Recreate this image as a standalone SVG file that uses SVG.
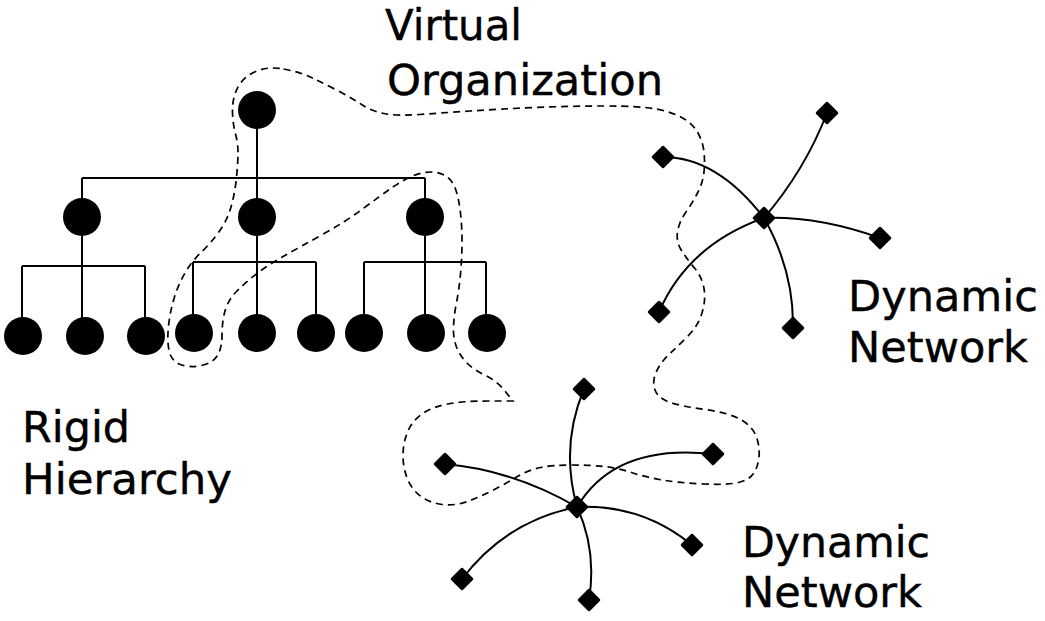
<svg xmlns="http://www.w3.org/2000/svg" xmlns:xlink="http://www.w3.org/1999/xlink" width="1045" height="621" viewBox="0 0 1045 621">
<style>
.bg{fill:#fff}
.ln{fill:none;stroke:#000;stroke-width:2}
.cv{fill:none;stroke:#000;stroke-width:2}
.dash{fill:none;stroke:#000;stroke-width:1.7;stroke-dasharray:7 5}
.hn{fill:#000}
.dn{fill:#000;stroke:#000;stroke-width:2.5;stroke-linejoin:round}
.lbl{font-family:"DejaVu Sans","Liberation Sans",sans-serif;font-size:42px;fill:#000;stroke:#000;stroke-width:0.4}
</style>
<defs>
<path id="dia" d="M0,-10 L10,0 L0,10 L-10,0 Z"/>
</defs>
<rect class="bg" width="1045" height="621"/>
<g id="connectors">
<path class="ln" d="M257,110 V178 M82,178 H425 M82,178 V217 M257,178 V217 M425,178 V217"/>
<path class="ln" d="M82,217 V335 M22,266 H145 M22,266 V335 M145,266 V335"/>
<path class="ln" d="M257,217 V335 M193,262 H316 M193,262 V335 M316,262 V335"/>
<path class="ln" d="M425,217 V335 M364,262 H486 M364,262 V335 M486,262 V335"/>
<path class="cv" d="M764,218 Q805,170 827,113 M764,218 Q717,157 663,157 M764,218 Q818,216 880,238 M764,218 Q688,245 659,312 M764,218 Q794,271 793,328"/>
<path class="cv" d="M577,507 Q560,446 584,389 M577,507 Q513,470 445,464 M577,507 Q615,443 713,454 M577,507 Q642,504 692,545 M577,507 Q506,521 462,579 M577,507 Q597,550 589,600"/>
<path id="virtual-org-boundary" class="dash" d="M 283.5,69 Q 300,72 311.5,77.5 Q 323,83 336.5,90 Q 350,97 361.5,104.5 Q 373,112 386.5,114 Q 400,116 420,114.5 Q 440,113 470,111 Q 500,109 535,107.5 Q 570,106 605,106 Q 640,106 656,109 Q 672,112 682.5,118 Q 693,124 698,133 Q 703,142 704,152 Q 705,162 704,172 Q 703,182 698,192 Q 693,202 686,212 Q 679,222 677.5,232 Q 676,242 681.5,250.5 Q 687,259 694.5,268 Q 702,277 704,288.5 Q 706,300 702,313 Q 698,326 688,336 Q 678,346 669,354.5 Q 660,363 656,372.5 Q 652,382 655,390 Q 658,398 669,402 Q 680,406 705,409.5 Q 730,413 741.5,420 Q 753,427 756.5,437 Q 760,447 759,457 Q 758,467 753.5,473.5 Q 749,480 738.5,482.5 Q 728,485 704,484 Q 680,483 662.5,480 Q 645,477 631.5,472.5 Q 618,468 604,466.5 Q 590,465 571.5,465 Q 553,465 540.5,467.5 Q 528,470 516.5,477 Q 505,484 492.5,490.5 Q 480,497 467.5,501.5 Q 455,506 442.5,504.5 Q 430,503 421,496.5 Q 412,490 407.5,479 Q 403,468 403,455.5 Q 403,443 407.5,432 Q 412,421 422,414 Q 432,407 447.5,404 Q 463,401 488,401 L 513,401 L 505,391 Q 497,381 485.5,375.5 Q 474,370 467,363 Q 460,356 456.5,347 Q 453,338 453.5,326.5 Q 454,315 456.5,302.5 Q 459,290 460.5,274 Q 462,258 462,242 Q 462,226 460.5,213 Q 459,200 456,190.5 Q 453,181 446.5,176.5 Q 440,172 431,172 Q 422,172 412.5,176 Q 403,180 391.5,188 Q 380,196 362.5,209 Q 345,222 322.5,234.5 Q 300,247 284,256 Q 268,265 257,273.5 Q 246,282 237,291 Q 228,300 225,311 Q 222,322 222,335 Q 222,348 217.5,355.5 Q 213,363 201.5,365.5 Q 190,368 180.5,364.5 Q 171,361 169,350.5 Q 167,340 168.5,326 Q 170,312 174,298.5 Q 178,285 185,273 Q 192,261 201,252.5 Q 210,244 218.5,232.5 Q 227,221 231,207 Q 235,193 236.5,177.5 Q 238,162 238,152.5 Q 238,143 235.5,134 Q 233,125 232.5,112.5 Q 232,100 237,89 Q 242,78 254.5,72 Q 267,66 283.5,69 Z"/>
</g>
<g id="h-root"><circle class="hn" cx="257" cy="110" r="19"/></g>
<g id="h-l2-a"><circle class="hn" cx="82" cy="217" r="19"/></g>
<g id="h-l2-b"><circle class="hn" cx="257" cy="217" r="19"/></g>
<g id="h-l2-c"><circle class="hn" cx="425" cy="217" r="19"/></g>
<g id="h-leaf-1"><circle class="hn" cx="23" cy="336" r="19"/></g>
<g id="h-leaf-2"><circle class="hn" cx="85" cy="336" r="19"/></g>
<g id="h-leaf-3"><circle class="hn" cx="146" cy="336" r="19"/></g>
<g id="h-leaf-4"><circle class="hn" cx="194" cy="333" r="19"/></g>
<g id="h-leaf-5"><circle class="hn" cx="257" cy="333" r="19"/></g>
<g id="h-leaf-6"><circle class="hn" cx="316" cy="333" r="19"/></g>
<g id="h-leaf-7"><circle class="hn" cx="364" cy="333" r="19"/></g>
<g id="h-leaf-8"><circle class="hn" cx="426" cy="333" r="19"/></g>
<g id="h-leaf-9"><circle class="hn" cx="487" cy="333" r="19"/></g>
<g id="n1-hub"><use class="dn" href="#dia" x="764" y="218"/></g>
<g id="n1-a"><use class="dn" href="#dia" x="827" y="113"/></g>
<g id="n1-b"><use class="dn" href="#dia" x="663" y="157"/></g>
<g id="n1-c"><use class="dn" href="#dia" x="880" y="238"/></g>
<g id="n1-d"><use class="dn" href="#dia" x="659" y="312"/></g>
<g id="n1-e"><use class="dn" href="#dia" x="793" y="328"/></g>
<g id="n2-hub"><use class="dn" href="#dia" x="577" y="507"/></g>
<g id="n2-a"><use class="dn" href="#dia" x="584" y="389"/></g>
<g id="n2-b"><use class="dn" href="#dia" x="445" y="464"/></g>
<g id="n2-c"><use class="dn" href="#dia" x="713" y="454"/></g>
<g id="n2-d"><use class="dn" href="#dia" x="692" y="545"/></g>
<g id="n2-e"><use class="dn" href="#dia" x="462" y="579"/></g>
<g id="n2-f"><use class="dn" href="#dia" x="589" y="600"/></g>
<g id="labels">
<text class="lbl" x="385" y="40" textLength="137" lengthAdjust="spacingAndGlyphs">Virtual</text>
<text class="lbl" x="387" y="95" textLength="276" lengthAdjust="spacingAndGlyphs">Organization</text>
<text class="lbl" x="22" y="442" textLength="108" lengthAdjust="spacingAndGlyphs">Rigid</text>
<text class="lbl" x="22" y="494" textLength="210" lengthAdjust="spacingAndGlyphs">Hierarchy</text>
<text class="lbl" x="848" y="311" textLength="190" lengthAdjust="spacingAndGlyphs">Dynamic</text>
<text class="lbl" x="848" y="362" textLength="180" lengthAdjust="spacingAndGlyphs">Network</text>
<text class="lbl" x="742" y="557" textLength="188" lengthAdjust="spacingAndGlyphs">Dynamic</text>
<text class="lbl" x="742" y="607" textLength="180" lengthAdjust="spacingAndGlyphs">Network</text>
</g>
</svg>
